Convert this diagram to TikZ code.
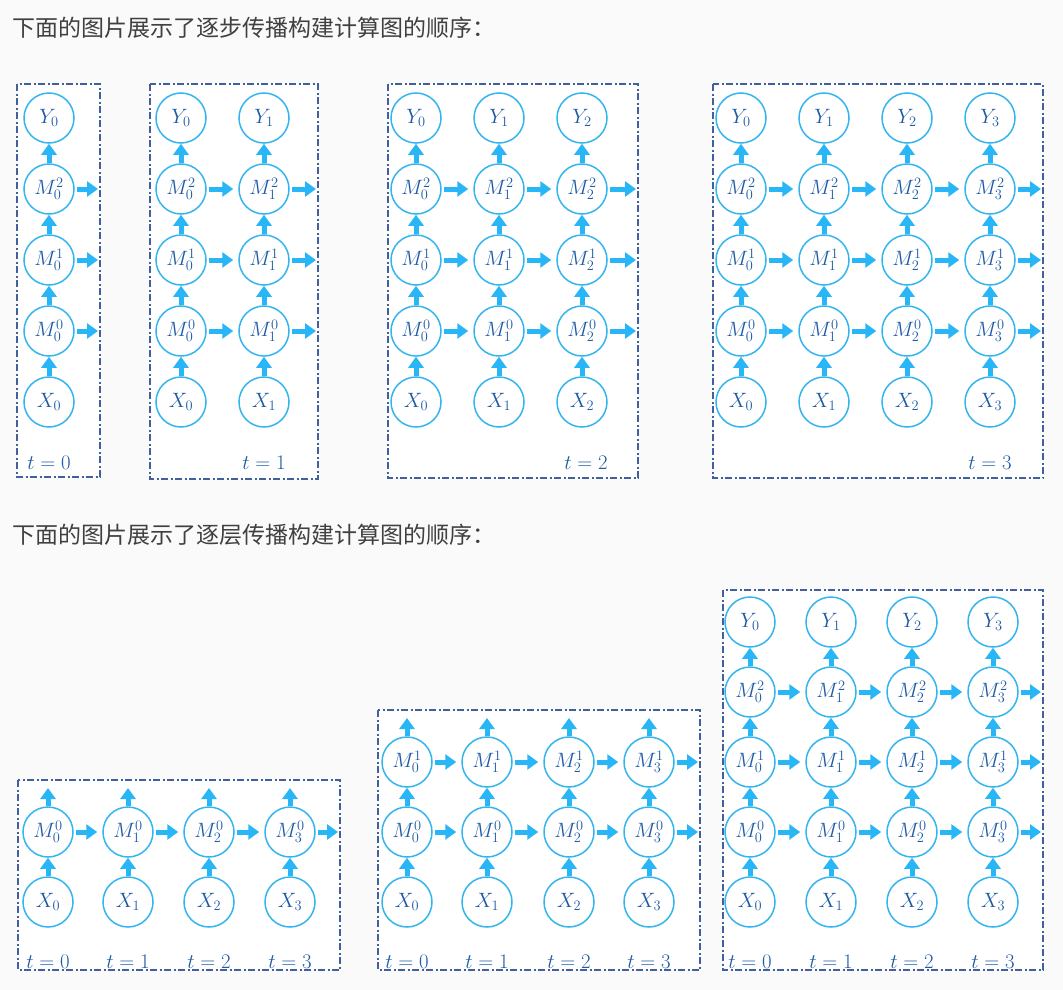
\documentclass[tikz,border=0pt]{standalone}
\usepackage{fontspec}
\newfontfamily\cjk{Noto Sans CJK SC}
\usetikzlibrary{arrows.meta}
\definecolor{cc}{RGB}{51,181,240}
\definecolor{ac}{RGB}{41,182,246}
\definecolor{tc}{RGB}{28,90,165}
\definecolor{bc}{RGB}{66,96,155}
\definecolor{bg}{RGB}{250,250,250}
\definecolor{hc}{RGB}{64,64,64}
\tikzset{
  nd/.style={circle, draw=cc, line width=1.5pt, fill=white, minimum size=50pt, inner sep=0pt, text=tc, font=\huge},
  ar/.style={draw=ac, line width=5pt, -{Triangle[width=15pt,length=11pt]}},
  har/.style={ar, shorten <=2pt, shorten >=5pt},
  frame/.style={draw=bc, line width=1.3pt, dash pattern=on 7pt off 2.5pt on 2pt off 2.5pt, fill=white},
  tl/.style={text=tc, font=\huge, inner sep=0pt},
  head/.style={anchor=west, inner sep=0pt, text=hc, font=\cjk\fontsize{23}{28}\selectfont}
}
\begin{document}
\begin{tikzpicture}[x=1pt,y=-1pt]
\fill[bg] (0,0) rectangle (1063,990);
\useasboundingbox (0,0) rectangle (1063,990);

\node[head] (h1) at (12,28) {下面的图片展示了逐步传播构建计算图的顺序：};
\node[head] (h2) at (12,535) {下面的图片展示了逐层传播构建计算图的顺序：};

% ---------- frames ----------
\draw[frame] (17,84) rectangle (100,477);
\draw[frame] (150,84) rectangle (318,479);
\draw[frame] (388,84) rectangle (638,478);
\draw[frame] (713,84) rectangle (1043,478);
\draw[frame] (18,780) rectangle (340,970);
\draw[frame] (378,710) rectangle (700,970);
\draw[frame] (723,590) rectangle (1043,970);

% ---------- top panels (full columns) ----------
\foreach \p/\cols/\right in {a/{0/49}/100, b/{0/181,1/264}/318, c/{0/416,1/499,2/582}/638, d/{0/741,1/824,2/907,3/990}/1043}{
  \foreach \i/\x in \cols {
    \node[nd] (\p X\i) at (\x,402) {$X_{\i}$};
    \foreach \l/\y in {0/331,1/260,2/189} {
      \node[nd] (\p M\i r\l) at (\x,\y) {$M_{\i}^{\l}$};
    }
    \node[nd] (\p Y\i) at (\x,118) {$Y_{\i}$};
    \draw[ar] (\p X\i) -- (\p M\i r0);
    \draw[ar] (\p M\i r0) -- (\p M\i r1);
    \draw[ar] (\p M\i r1) -- (\p M\i r2);
    \draw[ar] (\p M\i r2) -- (\p Y\i);
  }
  \foreach \l/\y in {0/331,1/260,2/189} {
    \coordinate (\p MEr\l) at (\right+3,\y);
  }
}
% horizontal arrows, top panels
\foreach \p/\pairs in {a/{0/E}, b/{0/1,1/E}, c/{0/1,1/2,2/E}, d/{0/1,1/2,2/3,3/E}}{
  \foreach \i/\n in \pairs {
    \foreach \l in {0,1,2} {
      \draw[har] (\p M\i r\l) -- (\p M\n r\l);
    }
  }
}
\node[tl] (taT) at (49,463) {$t=0$};
\node[tl] (tbT) at (264,463) {$t=1$};
\node[tl] (tcT) at (586,463) {$t=2$};
\node[tl] (tdT) at (990,463) {$t=3$};

% ---------- bottom panel e : one layer ----------
\foreach \i/\x in {0/48,1/128,2/209,3/290} {
  \node[nd] (eX\i) at (\x,902) {$X_{\i}$};
  \node[nd] (eM\i r0) at (\x,832) {$M_{\i}^{0}$};
  \coordinate (eU\i) at (\x,788);
  \draw[ar] (eX\i) -- (eM\i r0);
  \draw[ar] (eM\i r0) -- (eU\i);
  \node[tl] (eT\i) at (\x,962) {$t=\i$};
}
\coordinate (eMEr0) at (343,832);
\foreach \i/\n in {0/1,1/2,2/3,3/E} {
  \draw[har] (eM\i r0) -- (eM\n r0);
}

% ---------- bottom panel f : two layers ----------
\foreach \i/\x in {0/407,1/487,2/569,3/649} {
  \node[nd] (fX\i) at (\x,902) {$X_{\i}$};
  \node[nd] (fM\i r0) at (\x,832) {$M_{\i}^{0}$};
  \node[nd] (fM\i r1) at (\x,762) {$M_{\i}^{1}$};
  \coordinate (fU\i) at (\x,718);
  \draw[ar] (fX\i) -- (fM\i r0);
  \draw[ar] (fM\i r0) -- (fM\i r1);
  \draw[ar] (fM\i r1) -- (fU\i);
  \node[tl] (fT\i) at (\x,962) {$t=\i$};
}
\coordinate (fMEr0) at (703,832);
\coordinate (fMEr1) at (703,762);
\foreach \i/\n in {0/1,1/2,2/3,3/E} {
  \foreach \l in {0,1} {
    \draw[har] (fM\i r\l) -- (fM\n r\l);
  }
}

% ---------- bottom panel g : full ----------
\foreach \i/\x in {0/750,1/831,2/912,3/993} {
  \node[nd] (gX\i) at (\x,902) {$X_{\i}$};
  \foreach \l/\y in {0/832,1/762,2/692} {
    \node[nd] (gM\i r\l) at (\x,\y) {$M_{\i}^{\l}$};
  }
  \node[nd] (gY\i) at (\x,622) {$Y_{\i}$};
  \draw[ar] (gX\i) -- (gM\i r0);
  \draw[ar] (gM\i r0) -- (gM\i r1);
  \draw[ar] (gM\i r1) -- (gM\i r2);
  \draw[ar] (gM\i r2) -- (gY\i);
  \node[tl] (gT\i) at (\x,962) {$t=\i$};
}
\foreach \l/\y in {0/832,1/762,2/692} {
  \coordinate (gMEr\l) at (1046,\y);
}
\foreach \i/\n in {0/1,1/2,2/3,3/E} {
  \foreach \l in {0,1,2} {
    \draw[har] (gM\i r\l) -- (gM\n r\l);
  }
}
\end{tikzpicture}
\end{document}
